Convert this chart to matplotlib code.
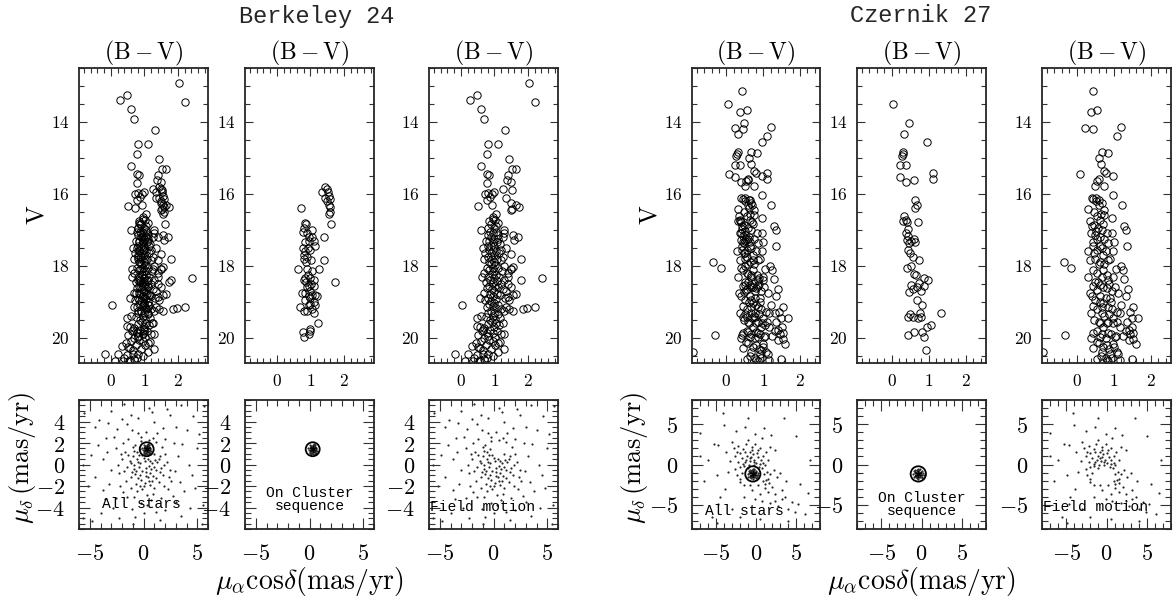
import numpy as np
import matplotlib.pyplot as plt
from matplotlib.patches import Circle
from matplotlib.ticker import MultipleLocator, FixedLocator, FuncFormatter

plt.rcParams['mathtext.fontset'] = 'cm'
plt.rcParams['font.family'] = 'DejaVu Serif'

# ---------------- Berkeley 24 ----------------
# colour-magnitude diagram, (B-V, V)
be_cmd_members = [
    (1.45, 15.80), (1.50, 15.85), (1.52, 15.95), (1.35, 15.95), (1.45, 16.10), (1.55, 16.05),
    (1.50, 16.20), (1.58, 16.15), (1.55, 16.30), (1.60, 16.50), (1.55, 16.55), (1.60, 16.35),
    (1.62, 16.85), (1.40, 17.20), (1.40, 17.85), (1.75, 18.45),
    (0.72, 16.40), (0.85, 16.80), (0.88, 16.85), (0.80, 16.95), (0.78, 17.05), (0.90, 17.10),
    (1.05, 17.00), (0.95, 17.20), (1.05, 17.20), (0.85, 17.35), (0.95, 17.30), (1.10, 17.30),
    (0.92, 17.50), (0.78, 17.50), (0.85, 17.60), (1.00, 17.55), (0.82, 17.70), (0.90, 17.75),
    (1.02, 17.85), (0.80, 17.80), (1.25, 18.10), (0.90, 18.10), (0.62, 18.10), (0.92, 18.25),
    (0.85, 18.35), (1.00, 18.35), (1.10, 18.40), (0.88, 18.45), (1.02, 18.50), (0.95, 18.55),
    (1.10, 18.55), (1.00, 18.70), (0.75, 18.75), (0.85, 18.75), (1.05, 18.80), (1.15, 18.80),
    (0.95, 18.85), (1.20, 18.85), (0.85, 18.95), (1.10, 19.00), (1.00, 19.05), (0.95, 19.10),
    (1.15, 19.10), (0.68, 19.15), (1.05, 19.20), (0.90, 19.25), (1.10, 19.30), (0.80, 19.25),
    (1.22, 19.60), (1.00, 19.80), (0.78, 19.85), (0.95, 19.90), (0.82, 19.98), (1.00, 19.75),
    (0.90, 18.60), (1.05, 18.15), (0.88, 17.90), (1.15, 17.45), (0.80, 18.40), (1.00, 18.90),
]
be_cmd_field = [
    (2.03, 12.92), (0.47, 13.24), (0.27, 13.40), (0.60, 13.63), (0.68, 13.91), (1.33, 14.21),
    (0.82, 14.60), (1.11, 14.62), (0.79, 14.90), (1.44, 15.02), (0.60, 15.22), (0.79, 15.46),
    (0.84, 15.48), (1.41, 15.48), (1.54, 15.30), (1.64, 15.32), (1.38, 15.62), (1.51, 15.67),
    (1.26, 15.87), (1.54, 15.90), (0.77, 15.71), (0.82, 15.97), (0.92, 16.01), (0.99, 15.94),
    (0.72, 16.01), (0.77, 16.18), (0.87, 16.08), (1.34, 16.10), (1.49, 16.25), (0.50, 16.33),
    (0.92, 16.31), (1.54, 16.41), (1.66, 16.31), (1.51, 16.45), (1.74, 16.36), (1.06, 16.55),
    (0.97, 16.64), (1.28, 17.00), (1.26, 17.20), (1.56, 17.15), (1.71, 17.19), (1.59, 17.29),
    (1.51, 17.66), (1.21, 17.56), (1.81, 17.82), (1.56, 18.03), (1.51, 18.08), (1.41, 18.32),
    (1.81, 18.38), (2.41, 18.35), (1.51, 18.58), (1.66, 18.77), (1.41, 18.86), (1.36, 19.14),
    (1.56, 19.25), (1.86, 19.19), (1.96, 19.17), (2.21, 19.14), (0.02, 19.09), (0.49, 19.46),
    (0.57, 19.69), (0.47, 19.68), (0.52, 19.93), (0.79, 19.88), (0.67, 19.79), (0.32, 20.23),
    (0.45, 20.14), (0.57, 20.27), (0.22, 20.44), (-0.18, 20.45), (0.47, 20.48), (0.67, 20.44),
    (0.12, 20.64), (0.37, 20.64), (0.57, 20.62), (0.77, 20.57), (1.11, 20.39), (1.28, 20.31),
    (1.01, 20.20), (1.16, 20.11), (2.20, 13.45),
    (0.85, 16.75), (0.95, 16.70), (1.02, 16.72), (0.90, 16.85), (1.05, 16.90), (0.80, 16.95),
    (1.12, 16.80), (0.98, 16.95), (0.88, 17.05), (0.95, 17.10), (1.05, 17.05), (0.82, 17.15),
    (1.10, 17.15), (0.90, 17.20), (1.00, 17.25), (0.75, 17.30), (0.85, 17.30), (0.95, 17.35),
    (1.08, 17.35), (1.18, 17.40), (0.90, 17.45), (1.00, 17.45), (0.80, 17.45), (1.12, 17.25),
    (0.85, 17.55), (0.95, 17.55), (1.05, 17.60), (0.72, 17.65), (0.90, 17.65), (1.15, 17.65),
    (1.00, 17.70), (0.80, 17.75), (0.92, 17.80), (1.08, 17.80), (0.70, 17.80), (0.98, 17.90),
    (0.85, 17.90), (1.20, 17.85), (1.02, 17.98), (0.90, 17.95), (0.78, 18.05), (0.95, 18.05),
    (1.10, 18.05), (0.85, 18.12), (1.00, 18.15), (1.22, 18.15), (0.70, 18.20), (0.92, 18.22),
    (1.05, 18.25), (0.82, 18.30), (1.15, 18.30), (0.98, 18.35), (0.88, 18.40), (1.08, 18.42),
    (1.28, 18.40), (0.75, 18.45), (0.95, 18.48), (1.20, 18.50), (0.85, 18.55), (1.02, 18.55),
    (1.12, 18.60), (0.78, 18.62), (0.92, 18.65), (1.25, 18.65), (1.00, 18.70), (0.70, 18.75),
    (0.88, 18.78), (1.08, 18.78), (1.18, 18.82), (0.95, 18.85), (0.80, 18.90), (1.05, 18.92),
    (1.32, 18.90), (0.90, 18.98), (0.72, 18.95), (1.00, 19.02), (0.85, 19.05), (1.12, 19.08),
    (0.95, 19.12), (0.78, 19.15), (1.05, 19.18), (1.20, 19.20), (0.90, 19.25), (1.00, 19.30),
    (0.82, 19.30), (1.10, 19.35), (0.95, 19.40), (0.75, 19.42), (1.18, 19.45), (1.02, 19.48),
    (0.88, 19.50), (0.92, 19.55), (1.05, 19.60), (0.80, 19.62), (1.15, 19.65), (0.98, 19.70),
    (0.70, 19.72), (0.88, 19.78), (1.08, 19.80), (0.62, 19.82), (0.95, 19.88), (1.20, 19.90),
    (0.80, 19.95), (1.02, 19.98), (0.70, 20.00), (0.85, 20.05), (0.95, 20.10), (0.60, 20.08),
    (1.10, 20.15), (0.75, 20.20), (0.52, 20.25), (0.90, 20.30), (0.65, 20.35), (0.80, 20.45),
    (0.40, 20.55), (0.95, 20.50), (0.70, 20.60), (0.55, 20.65),
    (1.30, 17.10), (1.35, 17.50), (1.25, 17.75), (1.30, 18.00), (1.40, 18.20), (1.35, 18.70),
    (1.45, 18.95), (1.30, 19.25), (1.25, 19.60), (1.30, 19.90), (1.40, 18.50), (1.50, 18.10),
    (1.45, 19.20), (1.55, 18.80), (0.60, 17.00), (0.65, 17.50), (0.62, 18.30), (0.58, 18.90),
    (0.60, 19.40),
]
# proper motions (mu_alpha cos delta, mu_delta), mas/yr
be_pm_members = [
    (0.30, 1.40), (0.10, 1.30), (0.45, 1.50), (0.20, 1.60), (0.40, 1.20), (0.00, 1.50),
    (0.60, 1.40), (0.30, 1.70), (0.25, 1.10), (0.50, 1.65), (0.05, 1.20), (0.55, 1.20),
    (0.15, 1.45), (0.35, 1.55), (0.40, 1.35), (0.20, 1.25), (0.10, 1.65), (0.65, 1.55),
    (-0.05, 1.35), (0.30, 1.00), (0.30, 1.85), (0.70, 1.30), (-0.10, 1.50), (0.50, 1.00),
    (0.10, 1.00), (0.55, 1.80), (0.05, 1.80), (0.25, 1.35), (0.35, 1.25), (0.45, 1.75),
    (0.15, 1.70), (0.60, 1.10), (0.00, 1.10), (0.40, 1.90),
]
be_pm_field = [
    (-0.5, 0.2), (0.2, -0.3), (-1.0, 0.8), (0.8, 0.1), (-0.3, -1.0), (1.2, -0.5), (-1.5, -0.2),
    (0.5, -1.5), (-0.8, 1.8), (1.5, 0.8), (-0.2, 2.2), (0.9, 2.5), (-1.2, -1.2), (1.8, -1.0),
    (-2.0, 0.5), (0.0, -2.0), (-0.6, -2.5), (1.0, -2.2), (2.2, 0.2), (-2.3, -0.8), (-0.4, 0.9),
    (0.4, 0.5), (-0.9, -0.4), (1.4, -1.6), (-1.7, 1.2), (0.6, -0.8), (-0.1, -0.6), (1.1, 0.4),
    (-1.3, 0.3), (0.3, -2.8), (-0.7, -1.8), (1.7, 1.6), (-1.9, 2.0), (2.5, -0.5), (-2.6, 1.5),
    (0.2, 3.0), (-0.5, 2.9), (1.3, 2.9), (-1.1, 3.2), (2.0, 2.4), (-2.2, -2.0), (2.3, -2.3),
    (0.7, -3.3), (-0.2, -3.6), (-1.5, -3.0), (1.6, -3.1), (-0.9, 0.0), (0.1, 0.3), (-0.3, 1.4),
    (1.0, 1.0), (-0.6, 0.5), (0.5, -0.1), (-1.1, -0.7), (0.9, -1.1), (-0.2, -1.4), (1.9, 0.0),
    (-1.6, -1.5), (0.2, -1.1), (-0.8, -0.9), (-0.4, -0.2), (0.7, -0.4), (1.3, 0.2), (-1.4, 0.9),
    (0.0, 0.6), (-0.9, 1.3), (1.6, -0.3), (-0.1, -2.3), (0.6, -1.9), (-1.2, -2.2), (1.2, -1.3),
    (-0.3, 0.1), (0.6, 0.3), (-0.7, -0.6), (0.2, -0.7), (-1.2, 0.1), (1.0, -0.2), (-0.5, -1.3),
    (0.4, -1.2), (-0.1, 0.9), (-0.6, 1.2), (1.4, 0.5), (-1.0, 1.6), (0.8, -1.5), (-1.8, -0.6),
    (0.1, -1.7), (-0.3, -2.0), (1.5, -0.7), (-2.1, 1.0), (2.0, 1.0), (-0.2, 2.6), (0.5, 2.3),
    (1.2, 2.1), (-1.4, 2.4), (-2.4, 0.0), (2.4, -1.2), (0.9, -2.7), (-0.9, -3.0), (0.3, -3.8),
    (-1.9, -2.6), (1.9, -2.0),
    (-4.5, 3.5), (-5.2, -2.0), (-3.8, 0.5), (-4.0, -4.5), (-5.5, 4.8), (-3.0, 5.0), (-2.0, 4.2),
    (0.5, 5.3), (2.5, 4.6), (4.0, 3.2), (5.0, 1.5), (4.5, -1.0), (5.5, -3.8), (3.5, -4.8),
    (1.5, -5.2), (-1.0, -5.5), (-2.8, -4.0), (-4.8, -5.3), (-5.6, 0.0), (-3.5, 2.5), (3.2, 0.8),
    (3.8, -2.5), (2.8, 2.0), (-3.2, -1.8), (-2.5, 3.3), (3.0, -3.5), (-4.2, 1.8), (4.6, 4.5),
    (-1.8, 5.6), (5.6, 5.4), (5.4, -5.5), (-5.6, -5.0), (3.5, 5.5), (-3.6, -3.2), (2.0, -4.2),
    (-0.5, 4.3), (1.0, 4.0), (4.2, 0.0), (-4.5, -1.2), (0.0, -4.5), (-2.3, -5.0), (2.6, -1.5),
    (-3.0, -0.5), (3.0, 3.5), (-1.5, 3.8), (5.2, 2.8),
    (-2.7, 2.6), (-3.4, 1.2), (-1.2, 4.6), (1.8, 3.4), (3.6, 1.9), (2.9, -0.6), (3.4, -1.6),
    (-3.8, -2.4), (-2.6, -3.1), (-1.1, -4.1), (1.2, -4.4), (2.7, -2.9), (-4.9, 0.9), (4.8, -2.2),
    (-0.8, -4.9), (0.8, 4.9), (-4.1, 4.1), (4.3, -4.0), (-3.3, 3.9), (2.2, 5.2),
]
be_radius = 0.65
be_pm_ticks = [-4, -2, 0, 2, 4]

# ---------------- Czernik 27 ----------------
cz_cmd_members = [
    (0.05, 13.51), (0.48, 14.04), (0.33, 14.33), (0.96, 14.55), (0.32, 14.83), (0.30, 14.90),
    (0.27, 14.95), (0.23, 15.20), (0.38, 15.21), (0.24, 15.53), (0.39, 15.67), (0.59, 15.60),
    (1.11, 15.41), (1.11, 15.58), (0.64, 16.18), (0.69, 16.30), (0.62, 16.39), (0.34, 16.62),
    (0.38, 16.72), (0.32, 16.76), (0.41, 16.79), (0.71, 16.78), (0.43, 16.98), (0.39, 17.09),
    (0.45, 17.18), (0.41, 17.27), (0.59, 17.26), (0.64, 17.34), (0.47, 17.37), (0.51, 17.32),
    (0.43, 17.57), (0.50, 17.65), (0.57, 17.76), (0.73, 17.83), (0.41, 18.05), (0.51, 18.00),
    (0.60, 18.22), (0.66, 18.25), (0.51, 18.53), (0.68, 18.58), (0.75, 18.49), (0.88, 18.34),
    (0.99, 18.39), (0.87, 18.56), (0.57, 18.65), (0.78, 18.69), (0.48, 18.72), (0.68, 18.95),
    (0.81, 19.09), (0.50, 19.34), (0.57, 19.41), (0.77, 19.32), (0.78, 19.43), (0.45, 19.41),
    (0.71, 19.45), (1.32, 19.30), (0.59, 19.83), (0.43, 19.93), (0.81, 19.83), (0.95, 19.71),
    (1.05, 19.65), (0.86, 19.97), (0.93, 20.34),
]
cz_cmd_field = [
    (0.43, 13.13), (0.38, 13.72), (0.56, 13.67), (0.23, 14.18), (0.45, 14.20), (1.20, 14.13),
    (1.10, 14.39), (0.68, 14.84), (0.84, 14.86), (0.61, 15.00), (0.66, 15.18), (0.74, 15.37),
    (0.80, 15.41), (0.97, 15.49), (0.08, 15.46), (0.54, 15.65), (0.59, 15.58), (0.74, 15.79),
    (0.50, 15.79), (0.52, 16.11), (0.41, 16.11), (0.32, 16.42), (0.61, 16.16), (0.68, 16.25),
    (0.74, 16.44), (0.97, 16.02), (1.22, 16.30), (0.36, 16.76), (0.47, 16.86), (0.63, 16.72),
    (0.74, 16.58), (0.96, 16.67), (1.28, 16.90), (1.34, 17.01), (1.35, 17.46), (0.52, 17.04),
    (0.68, 17.00), (0.82, 17.09), (0.96, 17.09), (0.54, 17.26), (0.43, 17.46), (0.63, 17.46),
    (0.85, 17.37), (0.97, 17.60), (0.47, 17.65), (0.72, 17.69), (-0.35, 17.88), (0.36, 17.83),
    (0.63, 17.88), (0.85, 17.85), (0.45, 18.11), (0.72, 18.11), (1.19, 18.01), (1.25, 18.12),
    (0.32, 18.32), (1.28, 18.37), (0.50, 18.44), (0.63, 18.53), (0.85, 18.39), (0.99, 18.30),
    (0.54, 18.67), (0.81, 18.62), (1.03, 18.58), (1.39, 18.65), (1.34, 18.84), (0.41, 18.84),
    (0.63, 18.84), (0.90, 18.90), (0.45, 19.11), (0.72, 19.04), (0.85, 19.13), (1.08, 19.27),
    (1.17, 19.30), (1.53, 19.13), (1.44, 19.27), (1.48, 19.46), (1.66, 19.44), (1.35, 19.55),
    (0.68, 19.32), (0.59, 19.55), (0.81, 19.60), (0.99, 19.46), (1.17, 19.69), (1.40, 19.79),
    (1.53, 19.88), (1.53, 20.02), (1.59, 20.16), (-0.31, 19.92), (0.45, 19.88), (0.63, 19.97),
    (0.85, 19.86), (1.03, 19.97), (0.54, 20.11), (0.81, 20.20), (0.99, 20.16), (0.45, 20.29),
    (0.68, 20.39), (0.90, 20.44), (1.08, 20.39), (0.56, 20.58), (0.81, 20.61), (1.48, 20.58),
    (1.17, 20.61), (-0.90, 20.40), (-0.15, 18.05),
    (0.45, 16.15), (0.52, 16.20), (0.60, 16.30), (0.48, 16.50), (0.55, 16.60), (0.65, 16.55),
    (0.42, 16.90), (0.58, 16.95), (0.72, 16.85), (0.50, 17.15), (0.62, 17.20), (0.75, 17.25),
    (0.45, 17.35), (0.55, 17.55), (0.68, 17.50), (0.80, 17.60), (0.50, 17.80), (0.60, 17.95),
    (0.75, 17.95), (0.90, 17.80), (0.55, 18.20), (0.68, 18.30), (0.82, 18.25), (0.45, 18.55),
    (0.58, 18.45), (0.72, 18.60), (0.88, 18.50), (0.95, 18.70), (0.50, 18.95), (0.62, 19.00),
    (0.78, 18.90), (0.92, 19.00), (0.55, 19.20), (0.68, 19.15), (0.75, 19.40), (0.88, 19.35),
    (0.95, 19.20), (0.48, 19.50), (0.62, 19.60), (0.72, 19.70), (0.85, 19.55), (0.98, 19.60),
    (1.10, 19.55), (0.55, 19.80), (0.68, 19.90), (0.78, 20.00), (0.92, 19.90), (1.05, 19.95),
    (0.60, 20.15), (0.72, 20.25), (0.88, 20.30), (1.00, 20.25), (0.65, 20.50), (0.78, 20.55),
    (0.95, 20.55), (0.85, 20.65), (1.12, 20.45), (1.25, 19.95), (1.32, 19.80), (1.45, 19.90),
    (1.20, 19.10), (1.50, 19.70), (1.40, 20.05), (1.00, 17.35), (1.05, 18.10), (1.12, 18.75),
    (0.35, 18.75), (0.38, 19.30), (0.40, 20.00), (0.30, 17.60), (0.38, 17.10),
]
cz_pm_members = [
    (-0.40, -1.10), (-0.70, -1.00), (-0.10, -1.20), (-0.50, -0.70), (-0.30, -1.50), (-0.80, -1.40),
    (0.00, -0.80), (-0.60, -1.70), (0.10, -1.50), (-0.90, -0.80), (-0.20, -0.50), (-0.40, -1.80),
    (0.20, -1.00), (-1.00, -1.20), (-0.55, -1.30), (-0.25, -0.90), (-0.45, -0.90), (-0.15, -1.35),
    (-0.65, -1.25), (-0.35, -1.25), (-0.75, -0.65), (0.05, -1.70), (-0.95, -1.60), (0.25, -1.35),
    (-0.30, -0.70), (-0.60, -0.85), (-0.15, -1.05), (-0.50, -1.45), (-0.85, -1.10), (0.10, -1.25),
    (-0.20, -1.60), (-0.70, -1.50), (-0.40, -0.60), (-0.45, -1.60), (-0.05, -0.95), (-0.75, -0.95),
]
cz_pm_field = [
    (-4.1, 6.4), (-1.0, 5.75), (-1.4, 4.7), (-4.0, 4.9), (1.9, 3.7), (-7.0, 3.9), (-4.7, 2.4),
    (-5.3, 2.6), (-3.0, 2.8), (-2.2, 2.3), (-1.0, 3.0), (-0.1, 2.6), (0.7, 3.25), (1.75, 2.2),
    (2.4, 1.8), (-6.0, 0.5), (-4.9, -1.3), (-3.5, -0.9), (-2.6, 1.0), (-2.0, 1.4), (-1.4, 1.6),
    (-0.5, 1.8), (0.1, 1.4), (0.9, 1.0), (1.5, 0.5), (-2.2, 0.3), (-1.6, 0.1), (-0.75, 0.75),
    (-0.3, 0.3), (0.5, 0.1), (1.1, -0.1), (2.2, -0.7), (2.6, -1.5), (-2.6, -0.5), (-2.4, -1.3),
    (-2.0, -2.2), (1.5, -1.75), (1.1, -2.4), (-3.9, -3.0), (-4.5, -4.0), (-0.5, -3.2), (0.5, -3.6),
    (1.5, -3.4), (2.4, -3.6), (3.2, -3.2), (3.6, -4.0), (4.5, -4.7), (5.3, -4.9), (5.5, -2.4),
    (4.9, -5.9), (6.1, -6.1), (-4.7, -4.9), (0.7, -4.5), (-0.1, -4.25), (2.4, -4.5), (3.2, -4.25),
    (-4.9, -7.2), (4.0, -7.0),
    (-1.2, 0.5), (-0.6, 0.9), (-0.2, 0.6), (-1.5, -0.2), (-0.9, 0.0), (0.3, 0.9), (-1.8, 0.8),
    (-0.4, 1.3), (0.0, 0.2), (-1.1, 1.1), (-0.7, 0.4), (0.6, 0.5), (-1.4, 0.3), (-0.3, -0.1),
    (-2.0, -0.3), (0.9, 0.2), (-1.0, -0.4), (0.4, -0.3), (-0.8, 1.6), (-1.6, 1.9), (0.2, 1.8),
    (-2.4, 1.5), (-0.5, 2.2), (0.5, 2.0), (-1.3, 2.5), (1.2, 1.5), (0.8, -0.4), (1.4, -0.9),
    (1.0, -1.2), (1.3, -1.9), (0.9, -2.0), (1.6, -2.3), (-1.8, -1.0), (-2.0, -1.8), (-1.5, -2.5),
    (-0.8, -2.6), (0.2, -2.5), (1.8, -1.2), (2.0, -2.8), (1.1, -2.9), (-3.2, 0.4), (-3.8, 1.5),
    (-2.8, 2.0), (-0.1, 3.8), (1.0, 4.5), (-2.5, 4.2), (3.0, -1.0), (3.8, -2.0), (4.0, -5.5),
    (2.8, -5.2), (1.8, -4.8), (-1.5, -4.0), (-3.0, -5.5), (-6.5, -2.0), (-7.0, 1.0), (6.8, 0.5),
    (5.0, 3.5), (3.5, 5.8), (-5.5, -6.5), (0.5, -6.8), (-2.0, -6.5), (6.5, -3.5),
]
cz_radius = 0.95
cz_pm_ticks = [-5, 0, 5]

clusters = [
    dict(name='Berkeley 24', cols=[(79, 208), (245, 374), (429, 558)], title_x=317,
         bv_lim=(-0.95, 2.9), pm_lim=6.0, pm_yticks=be_pm_ticks, pm_ymin=0.5,
         cmd_mem=be_cmd_members, cmd_fld=be_cmd_field,
         pm_mem=be_pm_members, pm_fld=be_pm_field, radius=be_radius,
         all_pos=(0.18, 0.19), tag_y=0.23),
    dict(name='Czernik 27', cols=[(692, 820), (857, 986), (1042, 1171)], title_x=921,
         bv_lim=(-0.93, 2.54), pm_lim=8.0, pm_yticks=cz_pm_ticks, pm_ymin=1,
         cmd_mem=cz_cmd_members, cmd_fld=cz_cmd_field,
         pm_mem=cz_pm_members, pm_fld=cz_pm_field, radius=cz_radius,
         all_pos=(0.1, 0.14), tag_y=0.19),
]

W, H = 1173, 601
fig = plt.figure(figsize=(W / 100, H / 100), dpi=100)


def rect(x0, x1, y0, y1):
    return [x0 / W, 1 - y1 / H, (x1 - x0) / W, (y1 - y0) / H]


mfmt = FuncFormatter(lambda v, p: f"${v:g}$")


def style(ax, fs, pad, xmaj, xmin, yticks, ymin, maj_len, min_len):
    ax.xaxis.set_major_locator(MultipleLocator(xmaj))
    ax.xaxis.set_minor_locator(MultipleLocator(xmin))
    ax.yaxis.set_major_locator(FixedLocator(yticks))
    ax.yaxis.set_minor_locator(MultipleLocator(ymin))
    ax.xaxis.set_major_formatter(mfmt)
    ax.yaxis.set_major_formatter(mfmt)
    ax.tick_params(which='both', direction='in', top=True, right=True,
                   labelsize=fs, pad=pad, width=0.8, color='0.2')
    ax.tick_params(which='major', length=maj_len)
    ax.tick_params(which='minor', length=min_len)
    for s in ax.spines.values():
        s.set_linewidth(1.3)
        s.set_color('0.15')


for cl in clusters:
    mem = np.array(cl['cmd_mem'])
    fld = np.array(cl['cmd_fld'])
    allc = np.vstack([fld, mem])
    pm_mem = np.array(cl['pm_mem'])
    pm_fld = np.array(cl['pm_fld'])
    pm_all = np.vstack([pm_fld, pm_mem])
    centre = pm_mem.mean(axis=0)
    L = cl['pm_lim']

    cmd_sets = [allc, mem, fld]
    pm_sets = [pm_all, pm_mem, pm_fld]

    for i, (x0, x1) in enumerate(cl['cols']):
        # CMD panel
        ax = fig.add_axes(rect(x0, x1, 68, 363))
        d = cmd_sets[i]
        ax.plot(d[:, 0], d[:, 1], 'o', mfc='none', mec='k', ms=5.3, mew=0.7)
        ax.set_xlim(*cl['bv_lim'])
        ax.set_ylim(20.7, 12.5)
        style(ax, 12.5, 7, 1, 0.2, [14, 16, 18, 20], 0.5, 6, 3.5)
        ax.set_title(r'$(\mathrm{B}-\mathrm{V})$', fontsize=17, pad=4)

        # proper-motion panel
        ax2 = fig.add_axes(rect(x0, x1, 400, 529))
        p = pm_sets[i]
        ax2.scatter(p[:, 0], p[:, 1], s=2.5, c='0.15', linewidths=0)
        if i < 2:
            ax2.add_patch(Circle(centre, cl['radius'], fill=False, ec='k', lw=1.3))
            ax2.plot(centre[0], centre[1], marker=(6, 2, 0), ms=5, mec='k', mew=0.8)
        ax2.set_xlim(-L, L)
        ax2.set_ylim(-L, L)
        style(ax2, 16, 10, 5, 1, cl['pm_yticks'], cl['pm_ymin'], 8, 4.5)
        if i == 0:
            ax2.text(*cl['all_pos'], 'All stars', transform=ax2.transAxes,
                     ha='left', va='center', family='Liberation Mono', fontsize=10.5)
        elif i == 1:
            ax2.text(0.5, cl['tag_y'], 'On Cluster\nsequence', transform=ax2.transAxes,
                     ha='center', va='center', family='Liberation Mono', fontsize=10.5,
                     linespacing=0.95)
        else:
            ax2.text(0.01, 0.17, 'Field motion', transform=ax2.transAxes,
                     ha='left', va='center', family='Liberation Mono', fontsize=10.5)

    xc = cl['cols'][0][0]
    fig.text(cl['title_x'] / W, 1 - 16 / H, cl['name'], ha='center', va='center',
             family='Liberation Mono', fontsize=17, color='0.15')
    fig.text((xc - 42) / W, 1 - 215 / H, r'$\mathrm{V}$', rotation=90,
             ha='center', va='center', fontsize=18)
    fig.text((xc - 57) / W, 1 - 458 / H, r'$\mu_{\delta}\,(\mathrm{mas/yr})$', rotation=90,
             ha='center', va='center', fontsize=19)
    mid = sum(cl['cols'][1]) / 2
    fig.text(mid / W, 1 - 582 / H, r'$\mu_{\alpha}\mathrm{cos}\delta(\mathrm{mas/yr})$',
             ha='center', va='center', fontsize=20)

fig.savefig('out.png', dpi=100)
